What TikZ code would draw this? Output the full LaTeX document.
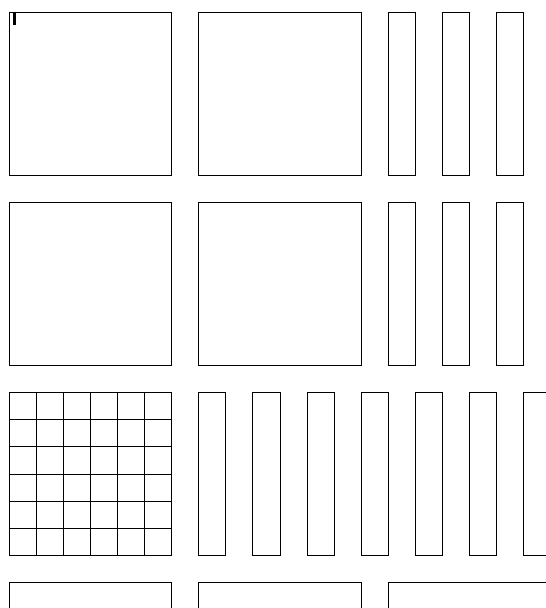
\documentclass[tikz,border=0pt]{standalone}
\begin{document}
\begin{tikzpicture}[x=1pt,y=-1pt,
  box/.style={draw=black,line width=1pt},
  cellline/.style={draw=black,line width=1pt}]
\useasboundingbox (0,0) rectangle (546,608);
\clip (0,0) rectangle (546,608);
\def\ox{9}
\def\oy{12.7}
\def\uu{27.1}
\def\vv{27.143}
% rows 1 and 2
\foreach \r in {0,1}{
  \foreach \c in {0,7}{
    \draw[box] (\ox+\c*\uu,\oy+\r*7*\vv) rectangle ++(6*\uu,6*\vv);
  }
  \foreach \c in {14,16,18}{
    \draw[box] (\ox+\c*\uu,\oy+\r*7*\vv) rectangle ++(\uu,6*\vv);
  }
}
% row 3: grid
\foreach \i in {0,...,6}{
  \draw[cellline] (\ox+\i*\uu,\oy+14*\vv) -- ++(0,6*\vv);
  \draw[cellline] (\ox,\oy+14*\vv+\i*\vv) -- ++(6*\uu,0);
}
\foreach \c in {7,9,11,13,15,17,19}{
  \draw[box] (\ox+\c*\uu,\oy+14*\vv) rectangle ++(\uu,6*\vv);
}
% row 4
\foreach \c in {0,7,14}{
  \draw[box] (\ox+\c*\uu,\oy+21*\vv) rectangle ++(6*\uu,6*\vv);
}
% cursor mark
\fill[black] (13.3,13) rectangle (15.6,25);
\end{tikzpicture}
\end{document}
